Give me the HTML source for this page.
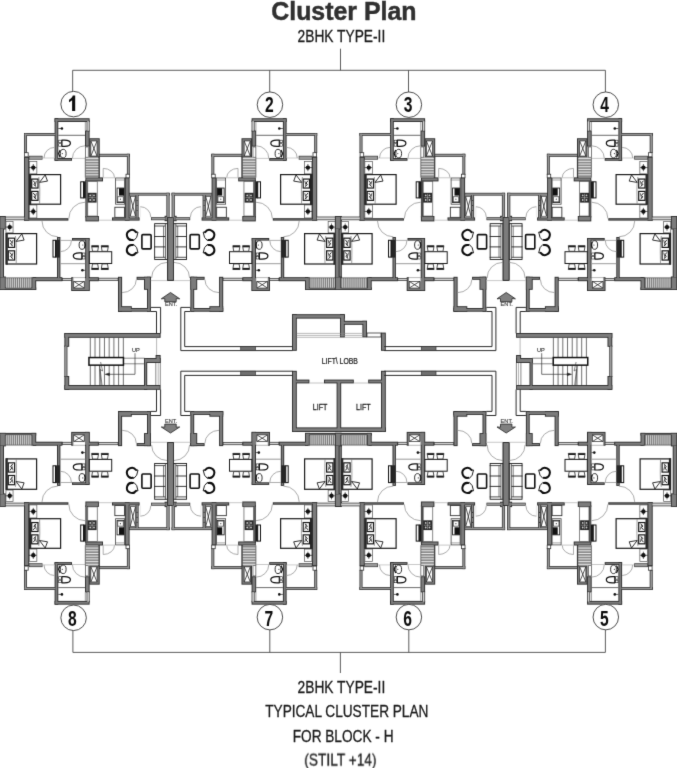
<!DOCTYPE html>
<html><head><meta charset="utf-8"><title>Cluster Plan</title>
<style>
html,body{margin:0;padding:0;background:#fff;}
body{width:677px;height:768px;overflow:hidden;font-family:"Liberation Sans",sans-serif;}
svg{display:block;}
svg text{font-family:"Liberation Sans",sans-serif;}
svg{will-change:transform;}
</style></head><body>
<svg width="677" height="768" viewBox="0 0 677 768">
<defs>
<filter id="bl" x="0" y="0" width="677" height="768" filterUnits="userSpaceOnUse" color-interpolation-filters="sRGB"><feConvolveMatrix order="3" kernelMatrix="0.01 0.08 0.01 0.08 0.64 0.08 0.01 0.08 0.01" divisor="1" edgeMode="duplicate" preserveAlpha="false"/></filter>
<g id="u"><rect x="54.6" y="118.25" width="35" height="3.75" fill="#2e2e2e"/>
<rect x="54.6" y="118.25" width="3.7" height="42.5" fill="#2e2e2e"/>
<rect x="54.6" y="158" width="17.4" height="2.75" fill="#2e2e2e"/>
<rect x="85" y="130.5" width="4.6" height="16.1" fill="#2e2e2e"/>
<rect x="86.6" y="120.5" width="3" height="11" fill="#2e2e2e"/>
<rect x="89.2" y="138.25" width="10.5" height="19.15" fill="#2e2e2e"/>
<rect x="98" y="156.5" width="1.8" height="21.5" fill="#2e2e2e"/>
<rect x="24" y="133" width="32" height="2.8" fill="#2e2e2e"/>
<rect x="24" y="133" width="3" height="20" fill="#2e2e2e"/>
<rect x="28.8" y="155.8" width="13.7" height="3.8" fill="#2e2e2e"/>
<rect x="24" y="156.8" width="5.2" height="63.8" fill="#2e2e2e"/>
<rect x="24" y="218.2" width="44.4" height="2.4" fill="#2e2e2e"/>
<rect x="85.4" y="177.4" width="17.6" height="4" fill="#2e2e2e"/>
<rect x="85.4" y="180" width="2.2" height="37.5" fill="#2e2e2e"/>
<rect x="85.4" y="216" width="13.5" height="5.4" fill="#2e2e2e"/>
<rect x="124.8" y="177.4" width="4.8" height="43.2" fill="#2e2e2e"/>
<rect x="112" y="217.4" width="27.6" height="3.2" fill="#2e2e2e"/>
<rect x="99" y="153.8" width="30.8" height="3" fill="#2e2e2e"/>
<rect x="126.9" y="153.8" width="2.9" height="21.2" fill="#2e2e2e"/>
<rect x="129" y="192.8" width="40.6" height="2.8" fill="#2e2e2e"/>
<rect x="166.4" y="192.8" width="3.2" height="25.2" fill="#2e2e2e"/>
<rect x="135.6" y="194" width="3" height="24.5" fill="#2e2e2e"/>
<rect x="151" y="217.2" width="15" height="3" fill="#2e2e2e"/>
<rect x="164.6" y="215.8" width="3.8" height="5.4" fill="#2e2e2e"/>
<rect x="167.2" y="217" width="6.8" height="63.8" fill="#2e2e2e"/>
<rect x="5" y="216.6" width="20" height="3.6" fill="#2e2e2e"/>
<rect x="-0.6" y="216" width="6.4" height="13.5" fill="#2e2e2e"/>
<rect x="-0.6" y="228" width="4.6" height="50" fill="#2e2e2e"/>
<rect x="-0.6" y="276.5" width="6.4" height="13.5" fill="#2e2e2e"/>
<rect x="-0.6" y="287.4" width="36.8" height="2.6" fill="#2e2e2e"/>
<rect x="31.4" y="277.2" width="4.8" height="12.8" fill="#2e2e2e"/>
<rect x="33" y="277.2" width="29.4" height="4" fill="#2e2e2e"/>
<rect x="62" y="278" width="10" height="3" fill="#2e2e2e"/>
<rect x="57" y="237" width="3.4" height="42" fill="#2e2e2e"/>
<rect x="72" y="238" width="17.4" height="2.6" fill="#2e2e2e"/>
<rect x="85.2" y="238" width="4.4" height="53" fill="#2e2e2e"/>
<rect x="71.2" y="277.2" width="18.4" height="13.8" fill="#2e2e2e"/>
<rect x="88" y="277.2" width="10.8" height="4" fill="#2e2e2e"/>
<rect x="98.4" y="277.8" width="20" height="3" fill="#2e2e2e"/>
<rect x="118" y="276.8" width="4.1" height="34.9" fill="#2e2e2e"/>
<rect x="118" y="308" width="32.8" height="3.7" fill="#2e2e2e"/>
<rect x="118" y="306.2" width="13.8" height="5.5" fill="#2e2e2e"/>
<rect x="147" y="276.8" width="3.8" height="34.9" fill="#2e2e2e"/>
<rect x="144" y="276.8" width="6.8" height="13" fill="#2e2e2e"/>
<rect x="136.6" y="276.8" width="14.2" height="3" fill="#2e2e2e"/>
<rect x="55.5" y="119.15" width="33.2" height="1.95" fill="#7c7c7c"/>
<rect x="55.5" y="119.15" width="1.9" height="40.7" fill="#7c7c7c"/>
<rect x="55.5" y="158.9" width="15.6" height="0.95" fill="#7c7c7c"/>
<rect x="85.9" y="131.4" width="2.8" height="14.3" fill="#7c7c7c"/>
<rect x="87.3" y="121.2" width="1.6" height="9.6" fill="#d4d4d4"/>
<rect x="90.1" y="139.15" width="8.7" height="17.35" fill="#7c7c7c"/>
<rect x="98.5" y="157" width="0.8" height="20.5" fill="#444"/>
<rect x="24.7" y="133.7" width="30.6" height="1.4" fill="#969696"/>
<rect x="24.7" y="133.7" width="1.6" height="18.6" fill="#969696"/>
<rect x="29.4" y="156.4" width="12.5" height="2.6" fill="#9a9a9a"/>
<rect x="24.9" y="157.7" width="3.4" height="62" fill="#7c7c7c"/>
<rect x="24.9" y="219.1" width="42.6" height="0.6" fill="#7c7c7c"/>
<rect x="86.3" y="178.3" width="15.8" height="2.2" fill="#7c7c7c"/>
<rect x="86" y="180.6" width="1" height="36.3" fill="#666"/>
<rect x="86.3" y="216.9" width="11.7" height="3.6" fill="#7c7c7c"/>
<rect x="125.7" y="178.3" width="3" height="41.4" fill="#7c7c7c"/>
<rect x="112.9" y="218.3" width="25.8" height="1.4" fill="#7c7c7c"/>
<rect x="99.7" y="154.5" width="29.4" height="1.6" fill="#969696"/>
<rect x="127.6" y="154.5" width="1.5" height="19.8" fill="#969696"/>
<rect x="129.7" y="193.5" width="39.2" height="1.4" fill="#969696"/>
<rect x="167.1" y="193.5" width="1.8" height="23.8" fill="#969696"/>
<rect x="136.3" y="194.7" width="1.6" height="23.1" fill="#8a8a8a"/>
<rect x="151.6" y="217.8" width="13.8" height="1.8" fill="#9a9a9a"/>
<rect x="165.5" y="216.7" width="2" height="3.6" fill="#7c7c7c"/>
<rect x="168.1" y="217.9" width="5" height="62" fill="#7c7c7c"/>
<rect x="5.7" y="217.3" width="18.6" height="2.2" fill="#d4d4d4"/>
<rect x="0.3" y="216.9" width="4.6" height="11.7" fill="#7c7c7c"/>
<rect x="0.3" y="228.9" width="2.8" height="48.2" fill="#7c7c7c"/>
<rect x="0.3" y="277.4" width="4.6" height="11.7" fill="#7c7c7c"/>
<rect x="0.3" y="288.3" width="35" height="0.8" fill="#7c7c7c"/>
<rect x="32.3" y="278.1" width="3" height="11" fill="#7c7c7c"/>
<rect x="33.9" y="278.1" width="27.6" height="2.2" fill="#7c7c7c"/>
<rect x="62.7" y="278.7" width="8.6" height="1.6" fill="#d4d4d4"/>
<rect x="57.9" y="237.9" width="1.6" height="40.2" fill="#7c7c7c"/>
<rect x="72.9" y="238.9" width="15.6" height="0.8" fill="#7c7c7c"/>
<rect x="86.1" y="238.9" width="2.6" height="51.2" fill="#7c7c7c"/>
<rect x="72.1" y="278.1" width="16.6" height="12" fill="#7c7c7c"/>
<rect x="88.9" y="278.1" width="9" height="2.2" fill="#7c7c7c"/>
<rect x="99.1" y="278.5" width="18.6" height="1.6" fill="#d4d4d4"/>
<rect x="118.9" y="277.7" width="2.3" height="33.1" fill="#7c7c7c"/>
<rect x="118.9" y="308.9" width="31" height="1.9" fill="#7c7c7c"/>
<rect x="118.9" y="307.1" width="12" height="3.7" fill="#7c7c7c"/>
<rect x="147.9" y="277.7" width="2" height="33.1" fill="#7c7c7c"/>
<rect x="144.9" y="277.7" width="5" height="11.2" fill="#7c7c7c"/>
<rect x="137.5" y="277.7" width="12.4" height="1.2" fill="#7c7c7c"/>
<line x1="85.3" y1="122" x2="85.3" y2="130.5" stroke="#555" stroke-width="0.6"/>
<rect x="85.35" y="146.95" width="2.9" height="10.3" fill="#fff" stroke="#444" stroke-width="0.7"/>
<line x1="58.3" y1="135.3" x2="85" y2="135.3" stroke="#444" stroke-width="0.8"/>
<line x1="58.3" y1="128.5" x2="61.7" y2="128.5" stroke="#222" stroke-width="0.7"/>
<circle cx="61.9" cy="128.5" r="1.3" fill="#111" stroke="none" stroke-width="0"/>
<rect x="58.7" y="140.2" width="2.6" height="2.5" fill="#fff" stroke="#1c1c1c" stroke-width="0.6"/>
<rect x="58.7" y="143.7" width="2.6" height="2.5" fill="#fff" stroke="#1c1c1c" stroke-width="0.6"/>
<path d="M61.90 140.10 L64.50 140.10 C68.10 140.10 70.40 141.50 70.40 143.20 C70.40 144.90 68.10 146.30 64.50 146.30 L61.90 146.30 Z" fill="#fff" stroke="#111" stroke-width="1.2" stroke-linejoin="round"/>
<ellipse cx="63.2" cy="153.6" rx="2.9" ry="4.3" fill="#fff" stroke="#1c1c1c" stroke-width="0.9"/>
<path d="M60.2 150.0 L58.6 153.6 L60.2 157.4" fill="none" stroke="#111" stroke-width="1.2"/>
<circle cx="62.3" cy="153.6" r="0.6" fill="#333" stroke="none" stroke-width="0"/>
<path d="M72.4 158.4 A12.6 12.6 0 0 1 85 145.8" fill="none" stroke="#9c9c9c" stroke-width="0.85"/>
<line x1="72" y1="158.4" x2="85" y2="158.4" stroke="#b0b0b0" stroke-width="0.7"/>
<rect x="90.85" y="140.95" width="6.2" height="15.1" fill="#fff" stroke="#333" stroke-width="0.7"/>
<line x1="90.9" y1="141" x2="97" y2="156" stroke="#2a2a2a" stroke-width="0.8"/>
<line x1="90.9" y1="156" x2="97" y2="141" stroke="#2a2a2a" stroke-width="0.8"/>
<rect x="85.4" y="157.4" width="13.2" height="20.2" fill="#8a8a8a"/>
<line x1="85.4" y1="158.6" x2="98.3" y2="158.6" stroke="#e8e8e8" stroke-width="1"/>
<line x1="85.4" y1="161.3" x2="98.3" y2="161.3" stroke="#e8e8e8" stroke-width="1"/>
<line x1="85.4" y1="164" x2="98.3" y2="164" stroke="#e8e8e8" stroke-width="1"/>
<line x1="85.4" y1="166.7" x2="98.3" y2="166.7" stroke="#e8e8e8" stroke-width="1"/>
<line x1="85.4" y1="169.4" x2="98.3" y2="169.4" stroke="#e8e8e8" stroke-width="1"/>
<line x1="85.4" y1="172.1" x2="98.3" y2="172.1" stroke="#e8e8e8" stroke-width="1"/>
<line x1="85.4" y1="174.8" x2="98.3" y2="174.8" stroke="#e8e8e8" stroke-width="1"/>
<line x1="85.3" y1="157.4" x2="85.3" y2="177.6" stroke="#444" stroke-width="0.7"/>
<rect x="24.6" y="152.7" width="3.6" height="4.1" fill="#fff" stroke="#333" stroke-width="0.8"/>
<line x1="42.5" y1="158" x2="54.6" y2="158" stroke="#b8b8b8" stroke-width="0.7"/>
<path d="M44 158 A10.6 10.6 0 0 1 54.6 147.4" fill="none" stroke="#9c9c9c" stroke-width="0.85"/>
<rect x="29.35" y="161.35" width="7.5" height="12.5" fill="#fff" stroke="#555" stroke-width="0.7"/>
<line x1="29" y1="167.6" x2="36.6" y2="167.6" stroke="#222" stroke-width="0.7"/>
<line x1="33.3" y1="164" x2="33.3" y2="171.2" stroke="#222" stroke-width="0.7"/>
<circle cx="33.3" cy="167.6" r="2.2" fill="#111" stroke="none" stroke-width="0"/>
<rect x="29.35" y="204.95" width="7.5" height="13" fill="#fff" stroke="#555" stroke-width="0.7"/>
<line x1="29" y1="211.45" x2="36.6" y2="211.45" stroke="#222" stroke-width="0.7"/>
<line x1="33.3" y1="207.85" x2="33.3" y2="215.05" stroke="#222" stroke-width="0.7"/>
<circle cx="33.3" cy="211.45" r="2.2" fill="#111" stroke="none" stroke-width="0"/>
<rect x="29.6" y="174.6" width="31" height="29.6" fill="#fff" stroke="#1a1a1a" stroke-width="1.2"/>
<rect x="29" y="174" width="2.2" height="30.8" fill="#262626"/>
<path d="M38.8 177.0 C40.2 184.0 39.8 194.0 39.6 203.8" fill="none" stroke="#777" stroke-width="0.7"/>
<rect x="31.7" y="179.07" width="6.3" height="8.96" fill="#fff" stroke="#161616" stroke-width="1.2"/>
<path d="M33.2 180.7 L35.2 183.0 L33.8 184.5 L36.2 186.6" fill="none" stroke="#222" stroke-width="1"/>
<path d="M36.4 180.9 L35.0 186.0" fill="none" stroke="#333" stroke-width="0.8"/>
<rect x="31.7" y="191.39" width="6.3" height="8.96" fill="#fff" stroke="#161616" stroke-width="1.2"/>
<path d="M33.2 193.0 L35.2 195.4 L33.8 196.9 L36.2 199.0" fill="none" stroke="#222" stroke-width="1"/>
<path d="M36.4 193.2 L35.0 198.4" fill="none" stroke="#333" stroke-width="0.8"/>
<path d="M39.5 182.4 L45.2 174.9 L47.5 181.1 Z" fill="#fff" stroke="#1c1c1c" stroke-width="0.9" stroke-linejoin="round"/>
<rect x="80.7" y="181.8" width="2.8" height="16.1" fill="#fff" stroke="#111" stroke-width="1"/>
<rect x="83.4" y="181.3" width="2.4" height="17.1" fill="#1a1a1a"/>
<path d="M68.8 218.6 A16.4 16.4 0 0 1 85.2 202.2" fill="none" stroke="#9c9c9c" stroke-width="0.85"/>
<rect x="87.75" y="181.55" width="9.5" height="34.5" fill="#fff" stroke="#555" stroke-width="0.7"/>
<rect x="87.6" y="192.8" width="9" height="9.8" fill="#2a2a2a"/>
<line x1="88.6" y1="197.7" x2="95.6" y2="197.7" stroke="#bbb" stroke-width="0.6"/>
<line x1="92.1" y1="193.8" x2="92.1" y2="201.6" stroke="#bbb" stroke-width="0.6"/>
<circle cx="90.2" cy="195.4" r="0.9" fill="#ccc" stroke="none" stroke-width="0"/>
<circle cx="94" cy="195.4" r="0.9" fill="#ccc" stroke="none" stroke-width="0"/>
<circle cx="90.2" cy="200" r="0.9" fill="#ccc" stroke="none" stroke-width="0"/>
<circle cx="94" cy="200" r="0.9" fill="#ccc" stroke="none" stroke-width="0"/>
<line x1="103.2" y1="168.4" x2="103.2" y2="177.6" stroke="#999" stroke-width="0.8"/>
<path d="M103.2 168.4 A11.3 9.2 0 0 1 114.5 177.6" fill="none" stroke="#9c9c9c" stroke-width="0.85"/>
<line x1="103" y1="177.8" x2="115" y2="177.8" stroke="#b0b0b0" stroke-width="0.7"/>
<rect x="115.6" y="178" width="9" height="26.2" fill="#fff" stroke="#444" stroke-width="0.8"/>
<line x1="115.2" y1="180" x2="125" y2="180" stroke="#666" stroke-width="0.6"/>
<rect x="117.05" y="188.05" width="6.9" height="14.5" fill="#fff" stroke="#222" stroke-width="0.9"/>
<rect x="119" y="188.2" width="5" height="7.4" fill="#111"/>
<rect x="117.75" y="196.75" width="5.5" height="5.1" fill="#fff" stroke="#333" stroke-width="0.7"/>
<circle cx="120.4" cy="199.2" r="0.6" fill="#333" stroke="none" stroke-width="0"/>
<rect x="114.85" y="207.25" width="9.7" height="10.1" fill="#fff" stroke="#333" stroke-width="0.9"/>
<line x1="98.9" y1="220.2" x2="112" y2="220.2" stroke="#b0b0b0" stroke-width="0.7"/>
<rect x="126" y="174.2" width="3.5" height="3.6" fill="#fff" stroke="#333" stroke-width="0.8"/>
<rect x="130.15" y="196.35" width="5.4" height="19.9" fill="#fff" stroke="#333" stroke-width="0.7"/>
<line x1="130.2" y1="196.4" x2="135.5" y2="216.2" stroke="#2a2a2a" stroke-width="0.8"/>
<line x1="130.2" y1="216.2" x2="135.5" y2="196.4" stroke="#2a2a2a" stroke-width="0.8"/>
<circle cx="137.1" cy="200.5" r="0.6" fill="#333" stroke="none" stroke-width="0"/>
<circle cx="137.1" cy="205.5" r="0.6" fill="#333" stroke="none" stroke-width="0"/>
<circle cx="137.1" cy="210.5" r="0.6" fill="#333" stroke="none" stroke-width="0"/>
<line x1="140.3" y1="206.8" x2="140.3" y2="217.2" stroke="#d8d8d8" stroke-width="0.6"/>
<path d="M140.3 206.7 A10.5 10.5 0 0 1 150.8 217.2" fill="none" stroke="#9c9c9c" stroke-width="0.85"/>
<rect x="154.65" y="223.65" width="12.7" height="35.8" fill="#fff" stroke="#1c1c1c" stroke-width="0.9"/>
<line x1="154.2" y1="226" x2="165.3" y2="226" stroke="#222" stroke-width="0.8"/>
<line x1="154.2" y1="257.3" x2="165.3" y2="257.3" stroke="#222" stroke-width="0.8"/>
<line x1="163.5" y1="226" x2="163.5" y2="257.3" stroke="#444" stroke-width="0.7"/>
<line x1="165.4" y1="223.2" x2="165.4" y2="259.9" stroke="#333" stroke-width="0.8"/>
<line x1="154.2" y1="236.5" x2="165.3" y2="236.5" stroke="#222" stroke-width="0.9"/>
<line x1="154.2" y1="246.9" x2="165.3" y2="246.9" stroke="#222" stroke-width="0.9"/>
<rect x="141.9" y="234.6" width="9.2" height="14.3" fill="#fff" stroke="#111" stroke-width="1.6" rx="1"/>
<g transform="translate(131.90,235.00) scale(1,1)"><path d="M0.9 4.9 L1.9 5.5 L4.8 2.3 L6.1 -2.9 L4.1 -2.9" fill="none" stroke="#111" stroke-width="0.95" stroke-linejoin="round"/><path d="M4.1 -2.9 A5 5 0 1 0 0.9 4.9" fill="none" stroke="#0c0c0c" stroke-width="2.0" stroke-linecap="round"/></g>
<g transform="translate(131.90,250.00) scale(1,-1)"><path d="M0.9 4.9 L1.9 5.5 L4.8 2.3 L6.1 -2.9 L4.1 -2.9" fill="none" stroke="#111" stroke-width="0.95" stroke-linejoin="round"/><path d="M4.1 -2.9 A5 5 0 1 0 0.9 4.9" fill="none" stroke="#0c0c0c" stroke-width="2.0" stroke-linecap="round"/></g>
<rect x="89.4" y="251.7" width="22.3" height="11.8" fill="#fff" stroke="#1c1c1c" stroke-width="1"/>
<path d="M92.50 251.30 L97.70 251.30 L98.60 245.70 L91.60 245.70 Z" fill="#fff" stroke="#222" stroke-width="0.8"/>
<rect x="91.8" y="245.7" width="6.6" height="1.6" fill="#1a1a1a"/>
<path d="M102.10 251.30 L107.50 251.30 L108.40 245.70 L101.20 245.70 Z" fill="#fff" stroke="#222" stroke-width="0.8"/>
<rect x="101.4" y="245.7" width="6.8" height="1.6" fill="#1a1a1a"/>
<path d="M92.50 263.90 L97.70 263.90 L98.60 269.50 L91.60 269.50 Z" fill="#fff" stroke="#222" stroke-width="0.8"/>
<rect x="91.8" y="267.9" width="6.6" height="1.6" fill="#1a1a1a"/>
<path d="M102.10 263.90 L107.50 263.90 L108.40 269.50 L101.20 269.50 Z" fill="#fff" stroke="#222" stroke-width="0.8"/>
<rect x="101.4" y="267.9" width="6.8" height="1.6" fill="#1a1a1a"/>
<path d="M151.6 278 A15.6 15.6 0 0 1 167.2 262.4" fill="none" stroke="#9c9c9c" stroke-width="0.85"/>
<line x1="150.8" y1="280.6" x2="167.4" y2="280.6" stroke="#b0b0b0" stroke-width="0.7"/>
<rect x="5.95" y="221.35" width="7.1" height="11.5" fill="#fff" stroke="#555" stroke-width="0.7"/>
<line x1="5.6" y1="227.1" x2="12.8" y2="227.1" stroke="#222" stroke-width="0.7"/>
<line x1="9.7" y1="223.5" x2="9.7" y2="230.7" stroke="#222" stroke-width="0.7"/>
<circle cx="9.7" cy="227.1" r="2.2" fill="#111" stroke="none" stroke-width="0"/>
<rect x="6.2" y="233.6" width="30.4" height="30.4" fill="#fff" stroke="#1a1a1a" stroke-width="1.2"/>
<rect x="5.6" y="233" width="2.2" height="31.6" fill="#262626"/>
<path d="M15.4 236.0 C16.8 243.0 16.4 253.0 16.2 263.6" fill="none" stroke="#777" stroke-width="0.7"/>
<rect x="8.3" y="238.18" width="6.3" height="9.23" fill="#fff" stroke="#161616" stroke-width="1.2"/>
<path d="M9.8 239.8 L11.8 242.3 L10.4 243.8 L12.8 246.0" fill="none" stroke="#222" stroke-width="1"/>
<path d="M13.0 240.0 L11.6 245.4" fill="none" stroke="#333" stroke-width="0.8"/>
<rect x="8.3" y="250.82" width="6.3" height="9.23" fill="#fff" stroke="#161616" stroke-width="1.2"/>
<path d="M9.8 252.4 L11.8 254.9 L10.4 256.4 L12.8 258.7" fill="none" stroke="#222" stroke-width="1"/>
<path d="M13.0 252.6 L11.6 258.1" fill="none" stroke="#333" stroke-width="0.8"/>
<path d="M16.1 241.4 L21.8 233.9 L24.1 240.1 Z" fill="#fff" stroke="#1c1c1c" stroke-width="0.9" stroke-linejoin="round"/>
<rect x="5.6" y="278" width="26" height="9.6" fill="#767676"/>
<line x1="6.8" y1="278" x2="6.8" y2="287.6" stroke="#e2e2e2" stroke-width="0.85"/>
<line x1="8.75" y1="278" x2="8.75" y2="287.6" stroke="#e2e2e2" stroke-width="0.85"/>
<line x1="10.7" y1="278" x2="10.7" y2="287.6" stroke="#e2e2e2" stroke-width="0.85"/>
<line x1="12.65" y1="278" x2="12.65" y2="287.6" stroke="#e2e2e2" stroke-width="0.85"/>
<line x1="14.6" y1="278" x2="14.6" y2="287.6" stroke="#e2e2e2" stroke-width="0.85"/>
<line x1="16.55" y1="278" x2="16.55" y2="287.6" stroke="#e2e2e2" stroke-width="0.85"/>
<line x1="18.5" y1="278" x2="18.5" y2="287.6" stroke="#e2e2e2" stroke-width="0.85"/>
<line x1="20.45" y1="278" x2="20.45" y2="287.6" stroke="#e2e2e2" stroke-width="0.85"/>
<line x1="22.4" y1="278" x2="22.4" y2="287.6" stroke="#e2e2e2" stroke-width="0.85"/>
<line x1="24.35" y1="278" x2="24.35" y2="287.6" stroke="#e2e2e2" stroke-width="0.85"/>
<line x1="26.3" y1="278" x2="26.3" y2="287.6" stroke="#e2e2e2" stroke-width="0.85"/>
<line x1="28.25" y1="278" x2="28.25" y2="287.6" stroke="#e2e2e2" stroke-width="0.85"/>
<line x1="30.2" y1="278" x2="30.2" y2="287.6" stroke="#e2e2e2" stroke-width="0.85"/>
<line x1="5.6" y1="277.8" x2="31.6" y2="277.8" stroke="#444" stroke-width="0.7"/>
<path d="M57.8 236.8 A15.8 15.8 0 0 1 42 221" fill="none" stroke="#9c9c9c" stroke-width="0.85"/>
<rect x="55.4" y="239.8" width="4.6" height="17.8" fill="#262626"/>
<rect x="53" y="240.3" width="2.5" height="16.8" fill="#fff" stroke="#111" stroke-width="1"/>
<path d="M71.4 240.6 A11 11 0 0 1 60.4 251.6" fill="none" stroke="#9c9c9c" stroke-width="0.85"/>
<line x1="60.4" y1="240.4" x2="72" y2="240.4" stroke="#999" stroke-width="0.8"/>
<ellipse cx="82" cy="245" rx="2.9" ry="4.3" fill="#fff" stroke="#1c1c1c" stroke-width="0.9"/>
<path d="M84.6 241.6 L85.4 245 L84.6 248.4" fill="none" stroke="#111" stroke-width="1"/>
<circle cx="82.8" cy="245" r="0.6" fill="#333" stroke="none" stroke-width="0"/>
<rect x="82.4" y="253" width="2.6" height="2.5" fill="#fff" stroke="#1c1c1c" stroke-width="0.6"/>
<rect x="82.4" y="256.5" width="2.6" height="2.5" fill="#fff" stroke="#1c1c1c" stroke-width="0.6"/>
<path d="M81.80 252.90 L79.20 252.90 C75.60 252.90 73.30 254.30 73.30 256.00 C73.30 257.70 75.60 259.10 79.20 259.10 L81.80 259.10 Z" fill="#fff" stroke="#111" stroke-width="1.2" stroke-linejoin="round"/>
<line x1="60.4" y1="263.7" x2="85.2" y2="263.7" stroke="#999" stroke-width="1"/>
<circle cx="82.4" cy="270.3" r="1.3" fill="#111" stroke="none" stroke-width="0"/>
<line x1="82.4" y1="270.3" x2="85.2" y2="270.3" stroke="#222" stroke-width="0.7"/>
<rect x="73.4" y="276.8" width="11.6" height="4.6" fill="#fff"/>
<line x1="73.4" y1="277.6" x2="85" y2="277.6" stroke="#999" stroke-width="0.7"/>
<rect x="73.75" y="281.35" width="10.5" height="6.7" fill="#fff" stroke="#333" stroke-width="0.7"/>
<line x1="73.8" y1="281.4" x2="84.2" y2="288" stroke="#2a2a2a" stroke-width="0.8"/>
<line x1="73.8" y1="288" x2="84.2" y2="281.4" stroke="#2a2a2a" stroke-width="0.8"/>
<path d="M136.3 279.6 A14.2 13 0 0 1 122.1 292.6" fill="none" stroke="#9c9c9c" stroke-width="0.85"/></g>
<g id="h">
<use href="#u"/>
<use href="#u" transform="translate(341.2,0) scale(-1,1)"/>
<use href="#u" transform="translate(335.5,0)"/>
<use href="#u" transform="translate(676.7,0) scale(-1,1)"/>
</g>
</defs>
<rect width="677" height="768" fill="#fff"/>
<g filter="url(#bl)">
<rect width="677" height="768" fill="#fff"/>
<g id="plan">
<use href="#h"/>
<use href="#h" transform="translate(0,722.9) scale(1,-1)"/>
<rect x="64.4" y="333" width="96.2" height="4.8" fill="#2e2e2e"/>
<rect x="64.4" y="385" width="96.2" height="4.8" fill="#2e2e2e"/>
<rect x="64.4" y="333" width="4.8" height="13.8" fill="#2e2e2e"/>
<rect x="64.4" y="376" width="4.8" height="13.8" fill="#2e2e2e"/>
<rect x="64.4" y="345.5" width="3" height="31.5" fill="#2e2e2e"/>
<rect x="144" y="358" width="16.6" height="5" fill="#2e2e2e"/>
<rect x="155.6" y="355" width="5" height="8" fill="#2e2e2e"/>
<rect x="144" y="358" width="3.2" height="31.8" fill="#2e2e2e"/>
<rect x="516.1" y="333" width="96.2" height="4.8" fill="#2e2e2e"/>
<rect x="516.1" y="385" width="96.2" height="4.8" fill="#2e2e2e"/>
<rect x="607.5" y="333" width="4.8" height="13.8" fill="#2e2e2e"/>
<rect x="607.5" y="376" width="4.8" height="13.8" fill="#2e2e2e"/>
<rect x="609.3" y="345.5" width="3" height="31.5" fill="#2e2e2e"/>
<rect x="516.1" y="358" width="16.6" height="5" fill="#2e2e2e"/>
<rect x="516.1" y="355" width="5" height="8" fill="#2e2e2e"/>
<rect x="529.5" y="358" width="3.2" height="31.8" fill="#2e2e2e"/>
<rect x="292" y="314.2" width="4.8" height="36.6" fill="#2e2e2e"/>
<rect x="292" y="314.2" width="52.8" height="4.4" fill="#2e2e2e"/>
<rect x="340" y="314.2" width="4.8" height="23.2" fill="#2e2e2e"/>
<rect x="340" y="320.8" width="27" height="4" fill="#2e2e2e"/>
<rect x="362.4" y="320.8" width="4.6" height="16.6" fill="#2e2e2e"/>
<rect x="381" y="332.6" width="4.8" height="18.2" fill="#2e2e2e"/>
<rect x="292" y="370.8" width="4.8" height="61.2" fill="#2e2e2e"/>
<rect x="381" y="370.8" width="4.8" height="61.2" fill="#2e2e2e"/>
<rect x="292" y="427.4" width="93.8" height="4.6" fill="#2e2e2e"/>
<rect x="336.6" y="381" width="4.6" height="51" fill="#2e2e2e"/>
<rect x="295" y="379.6" width="14.4" height="3.8" fill="#2e2e2e"/>
<rect x="324" y="379.6" width="29.8" height="3.8" fill="#2e2e2e"/>
<rect x="368.2" y="379.6" width="14.8" height="3.8" fill="#2e2e2e"/>
<rect x="65.3" y="333.9" width="94.4" height="3" fill="#7c7c7c"/>
<rect x="65.3" y="385.9" width="94.4" height="3" fill="#7c7c7c"/>
<rect x="65.3" y="333.9" width="3" height="12" fill="#7c7c7c"/>
<rect x="65.3" y="376.9" width="3" height="12" fill="#7c7c7c"/>
<rect x="65.1" y="346.2" width="1.6" height="30.1" fill="#a0a0a0"/>
<rect x="144.9" y="358.9" width="14.8" height="3.2" fill="#7c7c7c"/>
<rect x="156.5" y="355.9" width="3.2" height="6.2" fill="#7c7c7c"/>
<rect x="144.9" y="358.9" width="1.4" height="30" fill="#7c7c7c"/>
<rect x="517" y="333.9" width="94.4" height="3" fill="#7c7c7c"/>
<rect x="517" y="385.9" width="94.4" height="3" fill="#7c7c7c"/>
<rect x="608.4" y="333.9" width="3" height="12" fill="#7c7c7c"/>
<rect x="608.4" y="376.9" width="3" height="12" fill="#7c7c7c"/>
<rect x="610" y="346.2" width="1.6" height="30.1" fill="#a0a0a0"/>
<rect x="517" y="358.9" width="14.8" height="3.2" fill="#7c7c7c"/>
<rect x="517" y="355.9" width="3.2" height="6.2" fill="#7c7c7c"/>
<rect x="530.4" y="358.9" width="1.4" height="30" fill="#7c7c7c"/>
<rect x="292.9" y="315.1" width="3" height="34.8" fill="#7c7c7c"/>
<rect x="292.9" y="315.1" width="51" height="2.6" fill="#7c7c7c"/>
<rect x="340.9" y="315.1" width="3" height="21.4" fill="#7c7c7c"/>
<rect x="340.9" y="321.7" width="25.2" height="2.2" fill="#7c7c7c"/>
<rect x="363.3" y="321.7" width="2.8" height="14.8" fill="#7c7c7c"/>
<rect x="381.9" y="333.5" width="3" height="16.4" fill="#7c7c7c"/>
<rect x="292.9" y="371.7" width="3" height="59.4" fill="#7c7c7c"/>
<rect x="381.9" y="371.7" width="3" height="59.4" fill="#7c7c7c"/>
<rect x="292.9" y="428.3" width="92" height="2.8" fill="#7c7c7c"/>
<rect x="337.5" y="381.9" width="2.8" height="49.2" fill="#7c7c7c"/>
<rect x="295.9" y="380.5" width="12.6" height="2" fill="#7c7c7c"/>
<rect x="324.9" y="380.5" width="28" height="2" fill="#7c7c7c"/>
<rect x="369.1" y="380.5" width="13" height="2" fill="#7c7c7c"/>
<line x1="90.3" y1="337.8" x2="90.3" y2="385" stroke="#333" stroke-width="0.7"/>
<line x1="95.02" y1="337.8" x2="95.02" y2="385" stroke="#333" stroke-width="0.7"/>
<line x1="99.74" y1="337.8" x2="99.74" y2="385" stroke="#333" stroke-width="0.7"/>
<line x1="104.46" y1="337.8" x2="104.46" y2="385" stroke="#333" stroke-width="0.7"/>
<line x1="109.18" y1="337.8" x2="109.18" y2="385" stroke="#333" stroke-width="0.7"/>
<line x1="113.9" y1="337.8" x2="113.9" y2="385" stroke="#333" stroke-width="0.7"/>
<line x1="118.62" y1="337.8" x2="118.62" y2="385" stroke="#333" stroke-width="0.7"/>
<line x1="123.34" y1="337.8" x2="123.34" y2="385" stroke="#333" stroke-width="0.7"/>
<line x1="124" y1="358.2" x2="144.5" y2="358.2" stroke="#555" stroke-width="0.7"/>
<line x1="124" y1="363.8" x2="144.5" y2="363.8" stroke="#555" stroke-width="0.7"/>
<rect x="88.95" y="357.55" width="34.5" height="7.6" fill="#fff" stroke="#111" stroke-width="1.5"/>
<path d="M100.6 362 L102.6 371 L100.2 369.5 L102.0 385" fill="none" stroke="#333" stroke-width="0.6"/>
<path d="M99.6 366 L101.0 385" fill="none" stroke="#333" stroke-width="0.6"/>
<path d="M135.0 353.2 L135.0 374.3 L106.5 374.3" fill="none" stroke="#333" stroke-width="0.7"/>
<path d="M105.0 374.3 L109.5 372.9 L109.5 375.7 Z" fill="#222" stroke="#222" stroke-width="0.4"/>
<line x1="155.8" y1="363" x2="155.8" y2="385" stroke="#555" stroke-width="0.7"/>
<line x1="158.2" y1="363" x2="158.2" y2="385" stroke="#999" stroke-width="0.7"/>
<line x1="160.3" y1="363" x2="160.3" y2="385" stroke="#555" stroke-width="0.7"/>
<line x1="156.6" y1="337.8" x2="156.6" y2="355" stroke="#999" stroke-width="0.7"/>
<text transform="translate(135.90,351.80) scale(0.9681,1)" text-anchor="middle" font-size="5.8" fill="#333" stroke="#333" stroke-width="0.15">UP</text>
<path d="M150.80 307.40 L160.60 307.40 L160.60 333.40" fill="none" stroke="#2a2a2a" stroke-width="1"/>
<path d="M150.80 311.50 L156.50 311.50 L156.50 333.40" fill="none" stroke="#2a2a2a" stroke-width="1"/>
<path d="M190.40 307.40 L180.80 307.40 L180.80 350.60 L292.50 350.60" fill="none" stroke="#2a2a2a" stroke-width="1"/>
<path d="M190.40 311.50 L184.70 311.50 L184.70 346.60 L292.50 346.60" fill="none" stroke="#2a2a2a" stroke-width="1"/>
<rect x="240.70" y="346.60" width="14.70" height="4.00" fill="#707070" stroke="#333" stroke-width="0.7"/>
<path d="M150.80 415.50 L160.60 415.50 L160.60 389.50" fill="none" stroke="#2a2a2a" stroke-width="1"/>
<path d="M150.80 411.40 L156.50 411.40 L156.50 389.50" fill="none" stroke="#2a2a2a" stroke-width="1"/>
<path d="M190.40 415.50 L180.80 415.50 L180.80 371.20 L292.50 371.20" fill="none" stroke="#2a2a2a" stroke-width="1"/>
<path d="M190.40 411.40 L184.70 411.40 L184.70 375.40 L292.50 375.40" fill="none" stroke="#2a2a2a" stroke-width="1"/>
<rect x="240.70" y="371.20" width="14.70" height="4.20" fill="#707070" stroke="#333" stroke-width="0.7"/>
<line x1="586.4" y1="337.8" x2="586.4" y2="385" stroke="#333" stroke-width="0.7"/>
<line x1="581.68" y1="337.8" x2="581.68" y2="385" stroke="#333" stroke-width="0.7"/>
<line x1="576.96" y1="337.8" x2="576.96" y2="385" stroke="#333" stroke-width="0.7"/>
<line x1="572.24" y1="337.8" x2="572.24" y2="385" stroke="#333" stroke-width="0.7"/>
<line x1="567.52" y1="337.8" x2="567.52" y2="385" stroke="#333" stroke-width="0.7"/>
<line x1="562.8" y1="337.8" x2="562.8" y2="385" stroke="#333" stroke-width="0.7"/>
<line x1="558.08" y1="337.8" x2="558.08" y2="385" stroke="#333" stroke-width="0.7"/>
<line x1="553.36" y1="337.8" x2="553.36" y2="385" stroke="#333" stroke-width="0.7"/>
<line x1="552.7" y1="358.2" x2="532.2" y2="358.2" stroke="#555" stroke-width="0.7"/>
<line x1="552.7" y1="363.8" x2="532.2" y2="363.8" stroke="#555" stroke-width="0.7"/>
<rect x="553.25" y="357.55" width="34.5" height="7.6" fill="#fff" stroke="#111" stroke-width="1.5"/>
<path d="M576.1 362 L574.1 371 L576.5 369.5 L574.7 385" fill="none" stroke="#333" stroke-width="0.6"/>
<path d="M577.1 366 L575.7 385" fill="none" stroke="#333" stroke-width="0.6"/>
<path d="M541.7 353.2 L541.7 374.3 L570.2 374.3" fill="none" stroke="#333" stroke-width="0.7"/>
<path d="M571.7 374.3 L567.2 372.9 L567.2 375.7 Z" fill="#222" stroke="#222" stroke-width="0.4"/>
<line x1="520.9" y1="363" x2="520.9" y2="385" stroke="#555" stroke-width="0.7"/>
<line x1="518.5" y1="363" x2="518.5" y2="385" stroke="#999" stroke-width="0.7"/>
<line x1="516.4" y1="363" x2="516.4" y2="385" stroke="#555" stroke-width="0.7"/>
<line x1="520.1" y1="337.8" x2="520.1" y2="355" stroke="#999" stroke-width="0.7"/>
<text transform="translate(540.80,351.80) scale(0.9681,1)" text-anchor="middle" font-size="5.8" fill="#333" stroke="#333" stroke-width="0.15">UP</text>
<path d="M525.90 307.40 L516.10 307.40 L516.10 333.40" fill="none" stroke="#2a2a2a" stroke-width="1"/>
<path d="M525.90 311.50 L520.20 311.50 L520.20 333.40" fill="none" stroke="#2a2a2a" stroke-width="1"/>
<path d="M486.30 307.40 L495.90 307.40 L495.90 350.60 L384.20 350.60" fill="none" stroke="#2a2a2a" stroke-width="1"/>
<path d="M486.30 311.50 L492.00 311.50 L492.00 346.60 L384.20 346.60" fill="none" stroke="#2a2a2a" stroke-width="1"/>
<rect x="421.30" y="346.60" width="14.70" height="4.00" fill="#707070" stroke="#333" stroke-width="0.7"/>
<path d="M525.90 415.50 L516.10 415.50 L516.10 389.50" fill="none" stroke="#2a2a2a" stroke-width="1"/>
<path d="M525.90 411.40 L520.20 411.40 L520.20 389.50" fill="none" stroke="#2a2a2a" stroke-width="1"/>
<path d="M486.30 415.50 L495.90 415.50 L495.90 371.20 L384.20 371.20" fill="none" stroke="#2a2a2a" stroke-width="1"/>
<path d="M486.30 411.40 L492.00 411.40 L492.00 375.40 L384.20 375.40" fill="none" stroke="#2a2a2a" stroke-width="1"/>
<rect x="421.30" y="371.20" width="14.70" height="4.20" fill="#707070" stroke="#333" stroke-width="0.7"/>
<rect x="367" y="333" width="14" height="4" fill="#fff" stroke="#333" stroke-width="0.8"/>
<line x1="296.8" y1="333.4" x2="362.6" y2="333.4" stroke="#8a8a8a" stroke-width="0.6"/>
<line x1="296.8" y1="335.4" x2="362.6" y2="335.4" stroke="#8a8a8a" stroke-width="0.6"/>
<line x1="296.8" y1="337.3" x2="362.6" y2="337.3" stroke="#8a8a8a" stroke-width="0.6"/>
<line x1="309.4" y1="383" x2="324" y2="383" stroke="#aaa" stroke-width="0.7"/>
<line x1="353.8" y1="383" x2="368.2" y2="383" stroke="#aaa" stroke-width="0.7"/>
<text transform="translate(339.80,364.00) scale(0.7792,1)" text-anchor="middle" font-size="8.8" fill="#222" stroke="#222" stroke-width="0.25">LIFT\ LOBB</text>
<text transform="translate(320.00,410.20) scale(0.8071,1)" text-anchor="middle" font-size="8.8" fill="#222" stroke="#222" stroke-width="0.25">LIFT</text>
<text transform="translate(363.40,410.20) scale(0.8071,1)" text-anchor="middle" font-size="8.8" fill="#222" stroke="#222" stroke-width="0.25">LIFT</text>
<path d="M170.50 292.50 L179.70 298.80 L176.20 298.60 L176.20 301.70 L164.80 301.70 L164.80 298.60 L161.30 298.80 Z" fill="#808080" stroke="#333" stroke-width="0.9" stroke-linejoin="round"/>
<text transform="translate(171.00,306.40) scale(1.0053,1)" text-anchor="middle" font-size="5.6" fill="#444" stroke="#444" stroke-width="0.15">ENT.</text>
<path d="M170.50 433.00 L179.70 427.00 L176.20 427.20 L176.20 424.10 L164.80 424.10 L164.80 427.20 L161.30 427.00 Z" fill="#808080" stroke="#333" stroke-width="0.9" stroke-linejoin="round"/>
<text transform="translate(171.00,422.60) scale(1.0053,1)" text-anchor="middle" font-size="5.6" fill="#444" stroke="#444" stroke-width="0.15">ENT.</text>
<path d="M506.20 292.50 L515.40 298.80 L511.90 298.60 L511.90 301.70 L500.50 301.70 L500.50 298.60 L497.00 298.80 Z" fill="#808080" stroke="#333" stroke-width="0.9" stroke-linejoin="round"/>
<text transform="translate(506.70,306.40) scale(1.0053,1)" text-anchor="middle" font-size="5.6" fill="#444" stroke="#444" stroke-width="0.15">ENT.</text>
<path d="M506.20 433.00 L515.40 427.00 L511.90 427.20 L511.90 424.10 L500.50 424.10 L500.50 427.20 L497.00 427.00 Z" fill="#808080" stroke="#333" stroke-width="0.9" stroke-linejoin="round"/>
<text transform="translate(506.70,422.60) scale(1.0053,1)" text-anchor="middle" font-size="5.6" fill="#444" stroke="#444" stroke-width="0.15">ENT.</text>
</g>
<g stroke="#4a4a4a" stroke-width="0.9" fill="none">
<path d="M72.65 92 L72.65 70.3 L605.4 70.3 L605.4 92.5"/>
<path d="M269.7 70.3 L269.7 92.5"/>
<path d="M408.5 70.3 L408.5 92.5"/>
<path d="M340.5 48.7 L340.5 70.3"/>
<path d="M72.9 630 L72.9 652.4 L605.4 652.4 L605.4 629.5"/>
<path d="M269.8 629.5 L269.8 652.4"/>
<path d="M408.8 629.5 L408.8 652.4"/>
<path d="M340.4 652.4 L340.4 673"/>
</g>
<circle cx="73.60" cy="104.10" r="12.75" fill="#fff" stroke="#3a3a3a" stroke-width="0.9"/>
<path transform="translate(73.60,110.90)" fill="#0c0c0c" d="M1.6 -15.4 L-0.8 -15.4 C-1.4 -13.4 -3 -11.9 -4.6 -11.2 L-4.6 -8.6 C-3.3 -9.1 -2.2 -9.9 -1.5 -10.6 L-1.5 0 L1.6 0 Z"/>
<circle cx="269.95" cy="104.70" r="12.75" fill="#fff" stroke="#3a3a3a" stroke-width="0.9"/>
<text transform="translate(269.25,111.80) scale(0.7344,1)" text-anchor="middle" font-size="21.3" font-weight="bold" fill="#0c0c0c">2</text>
<circle cx="408.90" cy="104.70" r="12.75" fill="#fff" stroke="#3a3a3a" stroke-width="0.9"/>
<text transform="translate(408.15,111.90) scale(0.7344,1)" text-anchor="middle" font-size="21.3" font-weight="bold" fill="#0c0c0c">3</text>
<circle cx="605.80" cy="104.70" r="12.75" fill="#fff" stroke="#3a3a3a" stroke-width="0.9"/>
<text transform="translate(604.55,111.80) scale(0.7344,1)" text-anchor="middle" font-size="21.3" font-weight="bold" fill="#0c0c0c">4</text>
<circle cx="73.60" cy="617.80" r="12.75" fill="#fff" stroke="#3a3a3a" stroke-width="0.9"/>
<text transform="translate(72.35,626.20) scale(0.7344,1)" text-anchor="middle" font-size="21.3" font-weight="bold" fill="#0c0c0c">8</text>
<circle cx="269.90" cy="617.15" r="12.75" fill="#fff" stroke="#3a3a3a" stroke-width="0.9"/>
<text transform="translate(268.80,625.80) scale(0.7344,1)" text-anchor="middle" font-size="21.3" font-weight="bold" fill="#0c0c0c">7</text>
<circle cx="408.90" cy="617.10" r="12.75" fill="#fff" stroke="#3a3a3a" stroke-width="0.9"/>
<text transform="translate(407.50,625.70) scale(0.7344,1)" text-anchor="middle" font-size="21.3" font-weight="bold" fill="#0c0c0c">6</text>
<circle cx="605.80" cy="617.10" r="12.75" fill="#fff" stroke="#3a3a3a" stroke-width="0.9"/>
<text transform="translate(604.30,625.70) scale(0.7344,1)" text-anchor="middle" font-size="21.3" font-weight="bold" fill="#0c0c0c">5</text>
<text transform="translate(343.90,20.30) scale(0.9967,1)" text-anchor="middle" font-size="25.0" font-weight="bold" fill="#303030" stroke="#303030" stroke-width="0.45">Cluster Plan</text>
<text transform="translate(341.40,41.80) scale(0.8350,1)" text-anchor="middle" font-size="16.5" fill="#1a1a1a" stroke="#1a1a1a" stroke-width="0.3">2BHK TYPE-II</text>
<text transform="translate(341.40,693.20) scale(0.8350,1)" text-anchor="middle" font-size="16.5" fill="#1a1a1a" stroke="#1a1a1a" stroke-width="0.3">2BHK TYPE-II</text>
<text transform="translate(346.80,717.40) scale(0.8276,1)" text-anchor="middle" font-size="16.5" fill="#1a1a1a" stroke="#1a1a1a" stroke-width="0.3">TYPICAL CLUSTER PLAN</text>
<text transform="translate(343.10,742.00) scale(0.8283,1)" text-anchor="middle" font-size="16.5" fill="#1a1a1a" stroke="#1a1a1a" stroke-width="0.3">FOR BLOCK - H</text>
<text transform="translate(340.40,765.60) scale(0.8302,1)" text-anchor="middle" font-size="16.5" fill="#1a1a1a" stroke="#1a1a1a" stroke-width="0.3">(STILT +14)</text>
</g>
</svg>
</body></html>
